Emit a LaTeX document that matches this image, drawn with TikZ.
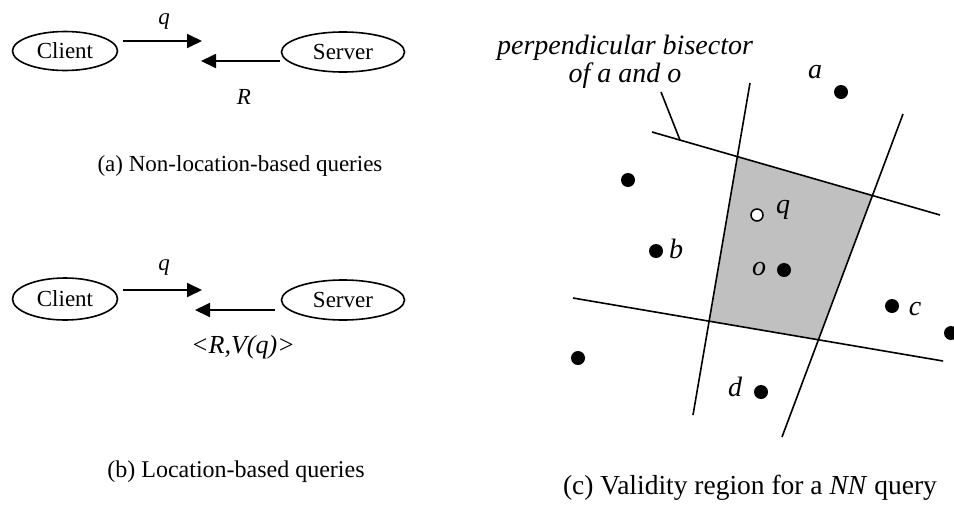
\documentclass[tikz,border=0pt]{standalone}
\usepackage{fontspec}
\setmainfont{Liberation Serif}
\usetikzlibrary{arrows.meta,shapes.geometric,calc}
\definecolor{regiongray}{HTML}{C0C0C0}
\begin{document}
\begin{tikzpicture}[x=1pt,y=-1pt,
  party/.style={draw, line width=1.6pt, ellipse, inner sep=0pt,
    font=\fontsize{23}{23}\selectfont},
  msg/.style={line width=1.8pt, -{Triangle[length=15pt,width=14pt]}},
  lbl/.style={font=\fontsize{23}{23}\selectfont\itshape, inner sep=0pt},
  captext/.style={font=\fontsize{24}{24}\selectfont, inner sep=0pt},
  bis/.style={line width=1.6pt},
  site/.style={circle, fill=black, inner sep=0pt, minimum size=14pt},
  qsite/.style={circle, draw, line width=1.5pt, fill=white, inner sep=0pt, minimum size=12pt},
  plbl/.style={font=\fontsize{28}{28}\selectfont\itshape, inner sep=0pt}]
\useasboundingbox (0,0) rectangle (954,512);

% (a) non-location-based query
\node[party, minimum width=105pt, minimum height=39pt] (ca) at (65,51) {Client};
\node[party, minimum width=123pt, minimum height=40pt] (sa) at (343,52) {Server};
\coordinate (qa) at (202,41);
\coordinate (ra) at (201,61);
\draw[msg] ($(ca.east |- qa)+(5,0)$) -- (qa);
\draw[msg] ($(sa.west |- ra)+(-1,0)$) -- (ra);
\node[lbl] (qla) at (164,22) {q};
\node[lbl] (rla) at (244,97) {R};
\node[captext, font=\fontsize{23}{23}\selectfont] (capa) at (240,166) {(a) Non-location-based queries};

% (b) location-based query
\node[party, minimum width=105pt, minimum height=42pt] (cb) at (65,299) {Client};
\node[party, minimum width=123pt, minimum height=40pt] (sb) at (343,300) {Server};
\coordinate (qb) at (202,290);
\coordinate (rb) at (195,310);
\draw[msg] ($(cb.east |- qb)+(5,0)$) -- (qb);
\draw[msg] ($(sb.west |- rb)+(-6,0)$) -- (rb);
\node[lbl] (qlb) at (164,268) {q};
\node[lbl, font=\fontsize{26}{26}\selectfont\itshape] (rlb) at (243,347) {<R,V(q)>};
\node[captext] (capb) at (236,472) {(b) Location-based queries};

% (c) validity region of an NN query
\coordinate (t1) at (652,132); \coordinate (t2) at (940,215);
\coordinate (b1) at (573,298); \coordinate (b2) at (943,361);
\coordinate (l1) at (750,83);  \coordinate (l2) at (693,415);
\coordinate (r1) at (903,114); \coordinate (r2) at (782,437);
\fill[regiongray]
  (intersection of t1--t2 and l1--l2) -- (intersection of t1--t2 and r1--r2) --
  (intersection of b1--b2 and r1--r2) -- (intersection of b1--b2 and l1--l2) -- cycle;
\draw[bis] (t1) -- (t2);
\draw[bis] (b1) -- (b2);
\draw[bis] (l1) -- (l2);
\draw[bis] (r1) -- (r2);

\node[plbl, align=center] (bistxt) at (625,62)
  {\fontsize{28}{30}\selectfont perpendicular bisector\\of a and o};
\coordinate (lead) at (661,92);
\draw[bis] (lead) -- ($(t1)!0.0972!(t2)$);

\node[site] (a) at (841,92) {};
\node[plbl] (al) at (815,72) {a};
\node[site] (e) at (628,180) {};
\node[site] (b) at (656,251) {};
\node[plbl] (bl) at (676,249) {b};
\node[qsite] (q) at (757,215) {};
\node[plbl] (ql) at (783,210) {q};
\node[site] (o) at (784,270) {};
\node[plbl] (ol) at (759,269) {o};
\node[site] (c) at (892,306) {};
\node[plbl] (cl) at (915,309) {c};
\node[site] (f) at (951,333) {};
\node[site] (g) at (578,358) {};
\node[site] (d) at (761,392) {};
\node[plbl] (dl) at (735,387) {d};

\node[font=\fontsize{27.5}{27.5}\selectfont, inner sep=0pt] (capc) at (750,488)
  {(c) Validity region for a \textit{NN} query};
\end{tikzpicture}
\end{document}
